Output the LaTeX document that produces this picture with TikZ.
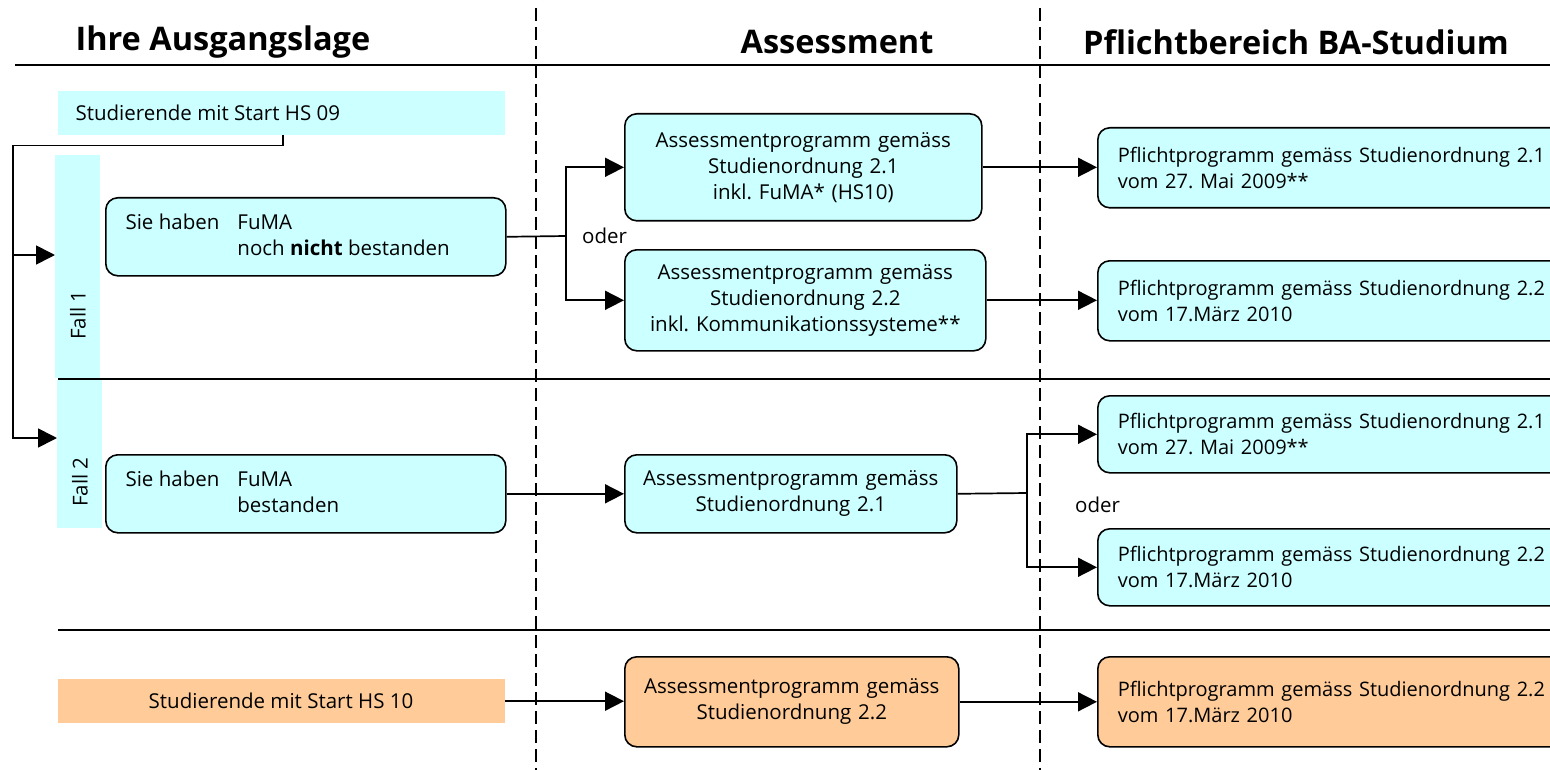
\documentclass[tikz,border=0pt]{standalone}
\usepackage{fontspec}
\setmainfont{Open Sans}
\usetikzlibrary{arrows.meta}
\definecolor{cy}{HTML}{CCFFFF}
\definecolor{og}{HTML}{FFCC99}
\frenchspacing
\begin{document}
\begin{tikzpicture}[x=1pt,y=-1pt,
  every node/.style={font=\fontsize{20.5}{26}\selectfont},
  head/.style={font=\bfseries\fontsize{32.5}{36}\selectfont},
  ptext/.style={font=\fontsize{20}{26}\selectfont},
  cbox/.style={draw, line width=1.6pt, rounded corners=12pt, fill=cy, anchor=north west},
  obox/.style={cbox, fill=og},
  flat/.style={anchor=north west, inner sep=0pt},
  conn/.style={line width=1.7pt},
  arr/.style={conn, -{Triangle[length=19pt,width=19pt]}},
  dashline/.style={line width=1.4pt, dash pattern=on 13pt off 6pt},
  rule/.style={line width=1.8pt},
]
\useasboundingbox (0,0) rectangle (1550,770);
\clip (0,0) rectangle (1550,770);

% headers
\node[head, anchor=west] (h1) at (72,42) {Ihre Ausgangslage};
\node[head] (h2) at (837,42) {Assessment};
\node[head] (h3) at (1296,42) {Pflichtbereich BA-Studium};

% rules and column lines
\draw[rule] (15,65) -- (1550,65);
\draw[dashline] (536,8) -- (536,770);
\draw[dashline] (1040,8) -- (1040,770);
\draw[line width=1.5pt] (58,379) -- (1550,379);
\draw[line width=2.4pt] (58,630) -- (1550,630);

% left column
\node[flat, fill=cy, minimum width=447pt, minimum height=44pt] (hs09) at (58,91) {};
\node[anchor=west] (hs09t) at (72,113) {Studierende mit Start HS 09};

\node[flat, fill=cy, minimum width=45pt, minimum height=223pt] (fall1) at (55,155) {};
\node[rotate=90] (fall1t) at (78,315) {Fall 1};
\node[flat, fill=cy, minimum width=45pt, minimum height=148pt] (fall2) at (57,380) {};
\node[rotate=90] (fall2t) at (80,482) {Fall 2};

\node[cbox, minimum width=400pt, minimum height=78pt] (f1) at (105,197) {};
\node[anchor=west] (f1t) at (122,237) {\begin{tabular}{@{}l@{\hspace{18pt}}l@{}}Sie haben & FuMA\\ & noch \textbf{nicht} bestanden\end{tabular}};

\node[cbox, minimum width=400pt, minimum height=78pt] (f2) at (105,454) {};
\node[anchor=west] (f2t) at (122,494) {\begin{tabular}{@{}l@{\hspace{18pt}}l@{}}Sie haben & FuMA\\ & bestanden\end{tabular}};

\node[flat, fill=og, minimum width=447pt, minimum height=44pt] (hs10) at (58,679) {};
\node (hs10t) at (281,701) {Studierende mit Start HS 10};

% assessment column
\node[cbox, minimum width=357pt, minimum height=107pt, text width=345pt, align=center] (a1) at (624,113) {Assessmentprogramm gemäss\\Studienordnung 2.1\\inkl. FuMA* (HS10)};
\node[cbox, minimum width=361pt, minimum height=101pt, text width=345pt, align=center] (a2) at (624,249) {Assessmentprogramm gemäss\\Studienordnung 2.2\\inkl. Kommunikationssysteme**};
\node[cbox, minimum width=332pt, minimum height=78pt, text width=320pt, align=center] (a3) at (624,454) {Assessmentprogramm gemäss\\Studienordnung 2.1};
\node[obox, minimum width=334pt, minimum height=90pt, text width=320pt, align=center] (a4) at (624,656) {Assessmentprogramm gemäss\\Studienordnung 2.2};

% Pflicht column
\tikzset{pbox/.style={ptext, minimum width=475pt, text width=460pt, inner xsep=20pt, align=left}}
\node[cbox, pbox, minimum height=80pt] (p1) at (1097,127) {Pflichtprogramm gemäss Studienordnung 2.1\\vom 27. Mai 2009**};
\node[cbox, pbox, minimum height=80pt] (p2) at (1097,260) {Pflichtprogramm gemäss Studienordnung 2.2\\vom 17.März 2010};
\node[cbox, pbox, minimum height=77pt] (p3) at (1097,395) {Pflichtprogramm gemäss Studienordnung 2.1\\vom 27. Mai 2009**};
\node[cbox, pbox, minimum height=77pt] (p4) at (1097,528) {Pflichtprogramm gemäss Studienordnung 2.2\\vom 17.März 2010};
\node[obox, pbox, minimum height=90pt] (p5) at (1097,656) {Pflichtprogramm gemäss Studienordnung 2.2\\vom 17.März 2010};

% oder labels
\node[anchor=west, inner sep=0pt] (oder1) at (582,236) {oder};
\node[anchor=west, inner sep=0pt] (oder2) at (1075,505) {oder};

% connectors
\coordinate (b1) at (13,255);
\coordinate (b2) at (13,438);
\draw[arr] ([xshift=225pt]hs09.south west) -- ++(0,10) -| (b2) -- (b2 -| fall2.west);
\draw[arr] (b1) -- (b1 -| fall1.west);

\coordinate (j1) at (566,236);
\draw[conn] (f1.east) -- (j1);
\draw[arr] (j1) |- (a1.west);
\draw[arr] (j1) |- (a2.west);
\draw[arr] (a1.east) -- (a1.east -| p1.west);
\draw[arr] (a2.east) -- (a2.east -| p2.west);

\draw[arr] (f2.east) -- (f2.east -| a3.west);
\coordinate (j2) at (1027,493);
\draw[conn] (a3.east) -- (j2);
\draw[arr] (j2) |- (p3.west);
\draw[arr] (j2) |- (p4.west);

\draw[arr] (hs10.east) -- (hs10.east -| a4.west);
\draw[arr] (a4.east) -- (p5.west);
\end{tikzpicture}
\end{document}
